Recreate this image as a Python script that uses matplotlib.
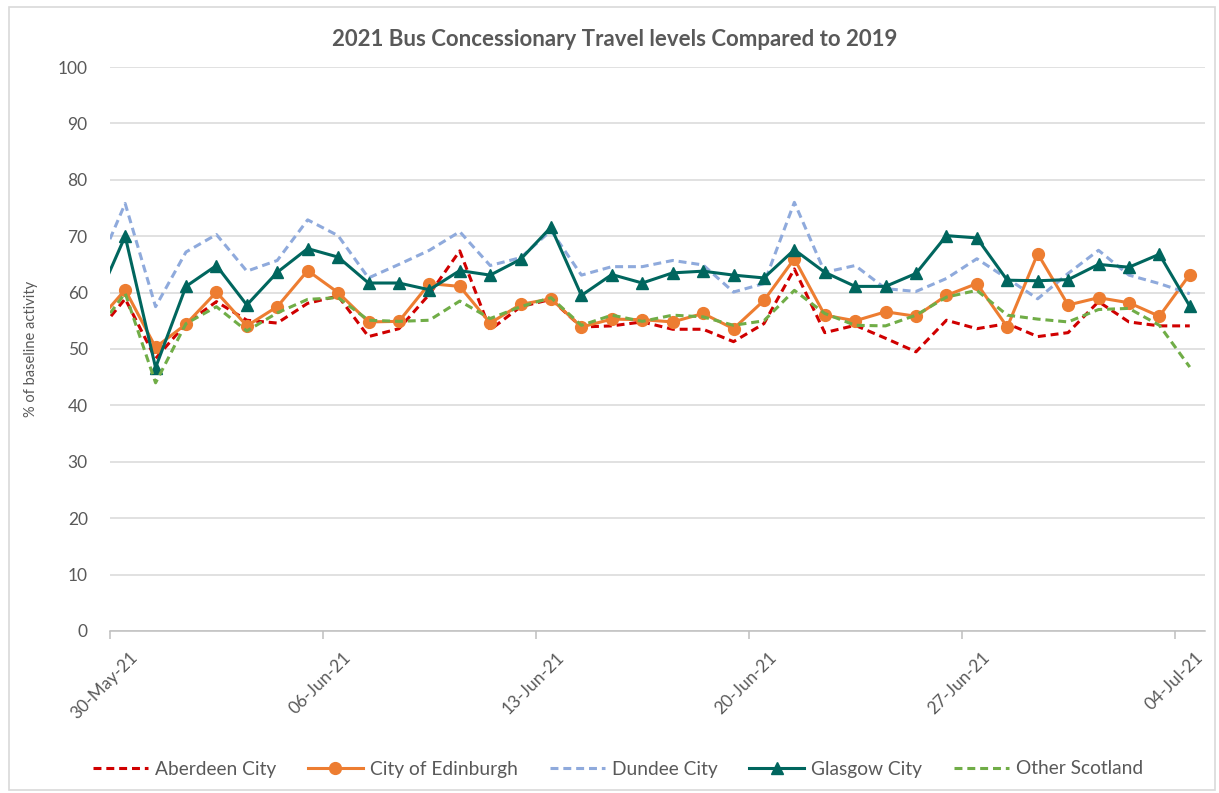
import matplotlib
matplotlib.use("Agg")
import matplotlib.pyplot as plt
import matplotlib.dates as mdates
import matplotlib.transforms as mtransforms
import numpy as np
import pandas as pd
from matplotlib.patches import Rectangle

plt.rcParams['font.family'] = ['Lato', 'DejaVu Sans']

# daily values, 29-May-21 .. 04-Jul-21 (first day is clipped by the axis)
dates = pd.date_range("2021-05-29", "2021-07-04", freq="D") + pd.Timedelta(hours=12)

aberdeen = [52.3, 58.9, 48.3, 54.5, 58.4, 55.1, 54.6, 58.1, 59.4, 52.2, 53.6,
            59.7, 67.4, 53.4, 57.5, 58.8, 53.9, 54.1, 54.8, 53.5, 53.5,
            51.3, 54.5, 64.2, 52.9, 54.2, 51.9, 49.5, 55.1, 53.6, 54.5,
            52.2, 52.9, 58.4, 54.8, 54.1, 54.1]
edinburgh = [54.3, 60.5, 50.3, 54.4, 60.1, 54.1, 57.5, 63.9, 60.0, 54.8, 54.9,
             61.6, 61.1, 54.6, 57.9, 58.9, 53.9, 55.3, 55.2, 54.8, 56.3,
             53.6, 58.6, 66.0, 56.0, 55.0, 56.6, 55.8, 59.5, 61.6, 53.9,
             66.9, 57.8, 59.1, 58.2, 55.8, 63.2]
dundee = [63.2, 75.8, 57.5, 67.2, 70.3, 63.8, 65.7, 72.9, 70.1, 62.6, 65.0,
          67.5, 70.8, 64.8, 66.2, 71.0, 63.1, 64.6, 64.6, 65.7, 64.9,
          60.1, 61.6, 76.0, 63.6, 64.8, 60.7, 60.2, 62.5, 66.0, 62.5,
          58.9, 63.4, 67.5, 63.1, 61.6, 59.8]
glasgow = [57.7, 70.0, 46.7, 61.1, 64.8, 57.8, 63.6, 67.8, 66.3, 61.7, 61.7,
           60.5, 63.9, 63.1, 65.9, 71.6, 59.5, 63.2, 61.7, 63.5, 63.8,
           63.1, 62.6, 67.6, 63.6, 61.1, 61.1, 63.4, 70.1, 69.7, 62.2,
           62.1, 62.3, 65.0, 64.5, 66.8, 57.6]
other = [52.7, 59.9, 44.0, 54.5, 57.5, 53.2, 56.4, 58.8, 59.1, 55.1, 54.9,
         55.1, 58.5, 55.4, 57.5, 59.1, 54.2, 56.0, 54.9, 56.0, 55.7,
         54.2, 55.0, 60.4, 56.3, 54.2, 54.1, 56.0, 59.2, 60.4, 56.0,
         55.3, 54.8, 57.0, 57.2, 54.2, 46.8]

tick_dates = pd.to_datetime(["2021-05-30", "2021-06-06", "2021-06-13",
                             "2021-06-20", "2021-06-27", "2021-07-04"])

grey = "#595959"
fig = plt.figure(figsize=(12.19, 7.93), dpi=100)
ax = fig.add_axes([0.0902, 0.2043, 0.8983, 0.7112])

lw = 2.2
ax.plot(dates, aberdeen, color="#D00000", lw=lw, dashes=(2.6, 1.6), label="Aberdeen City")
ax.plot(dates, edinburgh, color="#ED7D31", lw=lw, marker="o", ms=8.5, label="City of Edinburgh")
ax.plot(dates, dundee, color="#8FAADC", lw=lw, dashes=(2.6, 1.6), label="Dundee City")
ax.plot(dates, glasgow, color="#00665E", lw=lw, marker="^", ms=8.5, label="Glasgow City")
ax.plot(dates, other, color="#70AD47", lw=lw, dashes=(2.6, 1.6), label="Other Scotland")

ax.set_xlim(pd.Timestamp("2021-05-30"), pd.Timestamp("2021-07-05"))
ax.set_ylim(0, 100)
ax.set_yticks(np.arange(0, 101, 10))
ax.set_xticks(tick_dates)
ax.xaxis.set_major_formatter(mdates.DateFormatter("%d-%b-%y"))

ax.grid(axis="y", color="#D9D9D9", lw=1.1)
ax.set_axisbelow(True)
for s in ["top", "right", "left"]:
    ax.spines[s].set_visible(False)
ax.spines["bottom"].set_color("#BFBFBF")
ax.spines["bottom"].set_linewidth(1.1)
ax.tick_params(axis="y", length=0, pad=16, labelsize=12.5, labelcolor=grey)
ax.tick_params(axis="x", length=6, color="#BFBFBF", width=1.1, pad=4,
               labelsize=12.5, labelcolor=grey)

# shift rotated date labels right like Excel does
shift = mtransforms.ScaledTranslation(20 / 100, -4 / 100, fig.dpi_scale_trans)
for lab in ax.get_xticklabels():
    lab.set_rotation(45)
    lab.set_ha("right")
    lab.set_rotation_mode("anchor")
    lab.set_transform(lab.get_transform() + shift)

ax.set_ylabel("% of baseline activity", fontsize=10.5, color=grey, labelpad=14)
fig.text(0.504, 1 - 40 / 793, "2021 Bus Concessionary Travel levels Compared to 2019",
         ha="center", va="center", fontsize=16, fontweight="bold", color=grey)

fig.legend(loc="center", bbox_to_anchor=(0.507, 1 - 769 / 793), ncol=5, frameon=False,
           fontsize=13.8, handlelength=2.87, handletextpad=0.36, columnspacing=1.67,
           labelcolor=grey)

fig.patches.append(Rectangle((9 / 1219, 3 / 793), 1206 / 1219, 783 / 793,
                             transform=fig.transFigure, fill=False,
                             edgecolor="#D9D9D9", lw=1.2))

fig.savefig("out.png", dpi=100)
